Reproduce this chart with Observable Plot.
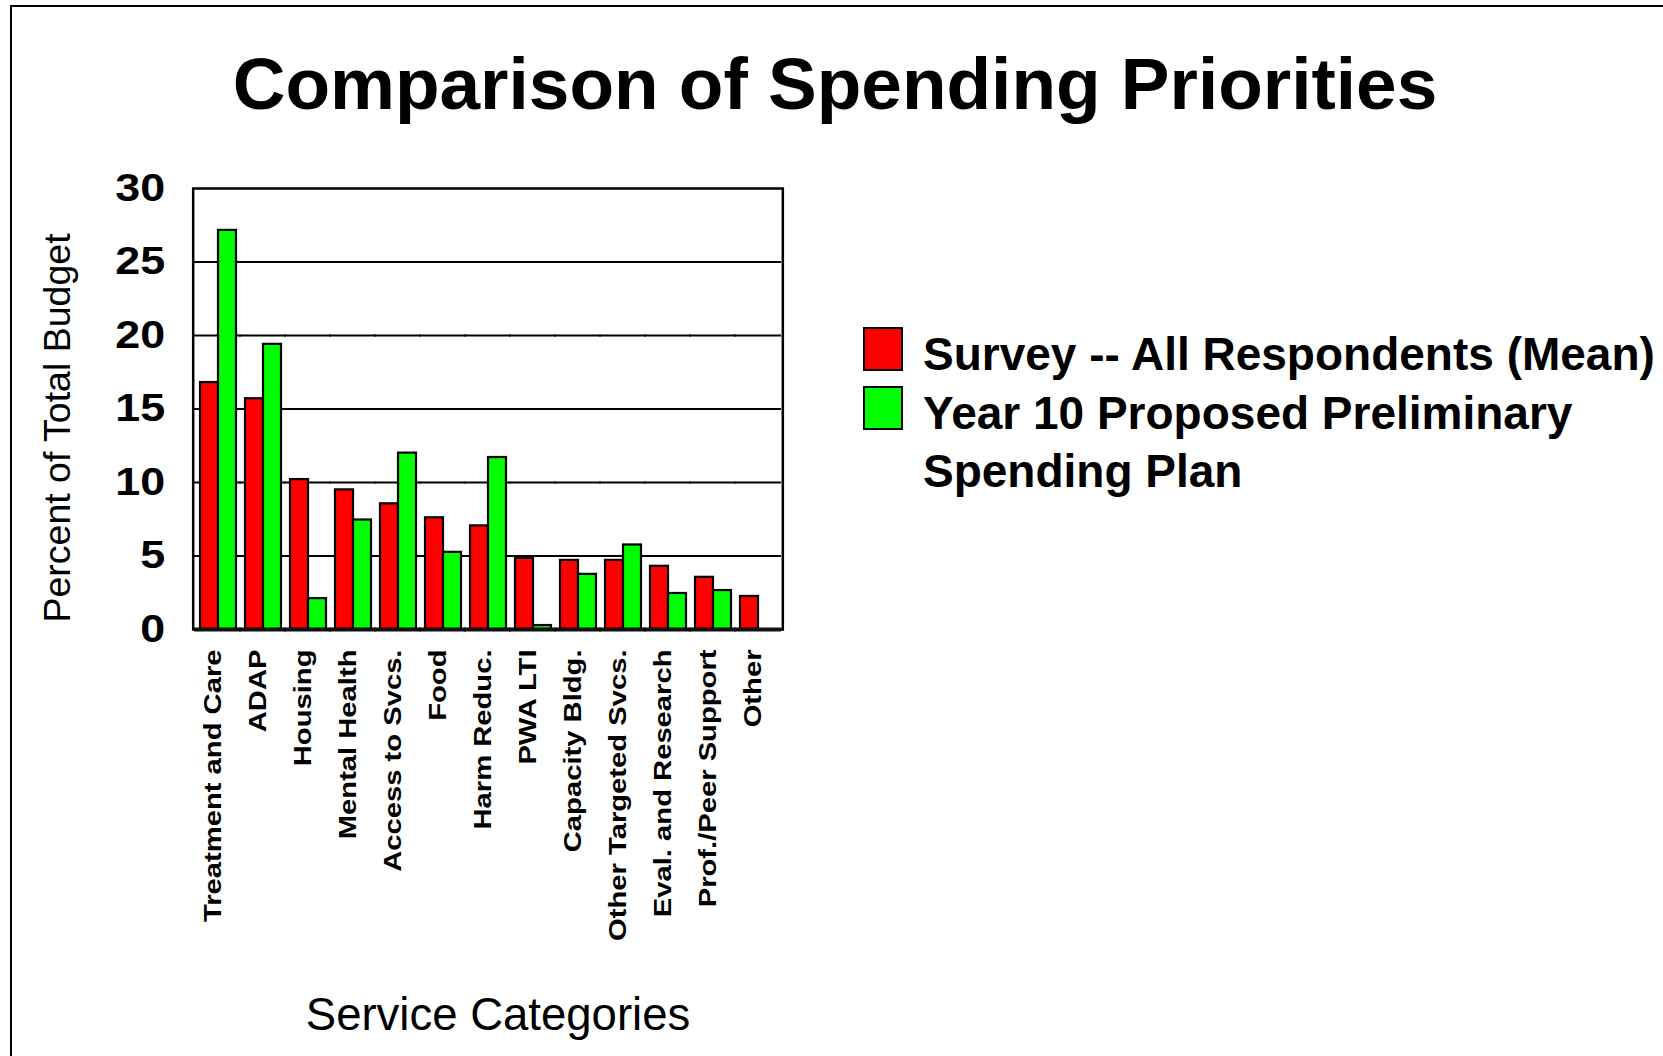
<!DOCTYPE html>
<html>
<head>
<meta charset="utf-8">
<script src="https://cdn.jsdelivr.net/npm/d3@7"></script>
<script src="https://cdn.jsdelivr.net/npm/@observablehq/plot@0.6"></script>
<style>
  html, body { margin: 0; padding: 0; background: #fff; }
  #page { position: relative; width: 1663px; height: 1056px; overflow: hidden; background: #fff;
          font-family: "Liberation Sans", Arial, Helvetica, sans-serif; color: #000; }
  #border { position: absolute; left: 10px; top: 5px; width: 1700px; height: 1100px;
            border-top: 2.5px solid #000; border-left: 2.5px solid #000; }
  #chart { position: absolute; left: 0; top: 0; }
  #title { position: absolute; left: 835px; top: 47px; transform: translateX(-50%); white-space: nowrap;
           font-size: 73px; line-height: 73px; font-weight: bold; }
  #ylabel { position: absolute; left: 57.5px; top: 428px; transform: translate(-50%, -50%) rotate(-90deg);
            white-space: nowrap; font-size: 37.5px; line-height: 37.5px; }
  #xlabel { position: absolute; left: 498px; top: 992px; transform: translateX(-50%); white-space: nowrap;
            font-size: 45.5px; line-height: 45.5px; }
  #legend { position: absolute; left: 863px; top: 325px; }
  .entry { display: flex; align-items: flex-start; }
  .swatch { width: 36px; height: 40px; border: 2.5px solid #000; margin-top: 2px; margin-right: 20px; flex: none; }
  .entry-label { font-size: 46px; line-height: 58.5px; font-weight: bold; width: 760px; }
</style>
</head>
<body>
<div id="page">
  <div id="border"></div>
  <div id="title"></div>
  <div id="chart"></div>
  <div id="ylabel"></div>
  <div id="xlabel"></div>
  <div id="legend"></div>
</div>
<script>
// ---- data ----
const titleText = "Comparison of Spending Priorities";
const yLabel = "Percent of Total Budget";
const xLabel = "Service Categories";
const categories = ["Treatment and Care", "ADAP", "Housing", "Mental Health", "Access to Svcs.", "Food",
  "Harm Reduc.", "PWA LTI", "Capacity Bldg.", "Other Targeted Svcs.", "Eval. and Research",
  "Prof./Peer Support", "Other"];
const seriesNames = ["Survey -- All Respondents (Mean)", "Year 10 Proposed Preliminary Spending Plan"];
const seriesColors = ["#ff0000", "#00ff00"];
const surveyValues = [16.8, 15.7, 10.2, 9.5, 8.55, 7.6, 7.05, 4.85, 4.7, 4.7, 4.3, 3.55, 2.25];
const planValues = [27.15, 19.4, 2.1, 7.45, 12.0, 5.25, 11.7, 0.27, 3.75, 5.75, 2.45, 2.65, 0];
const yTicks = [0, 5, 10, 15, 20, 25, 30];
const gridValues = [5, 10, 15, 20, 25];

const data = categories.flatMap((c, i) => [
  {category: c, series: seriesNames[0], value: surveyValues[i]},
  {category: c, series: seriesNames[1], value: planValues[i]}
]);

document.getElementById("title").textContent = titleText;
document.getElementById("ylabel").textContent = yLabel;
document.getElementById("xlabel").textContent = xLabel;

const legend = document.getElementById("legend");
seriesNames.forEach((name, i) => {
  const row = document.createElement("div");
  row.className = "entry";
  const sw = document.createElement("div");
  sw.className = "swatch";
  sw.style.background = seriesColors[i];
  const lab = document.createElement("div");
  lab.className = "entry-label";
  lab.textContent = name;
  row.appendChild(sw); row.appendChild(lab);
  legend.appendChild(row);
});

// layout
const W = 1663, H = 1056, mL = 192, mR = 880, mT = 188, mB = 427;
const padIn = 0.175, padOut = 0.14;
const step = (W - mL - mR) / (categories.length - padIn + 2 * padOut);
const outer = step * padOut;          // gap between frame edge and first/last facet
const gapFill = -(step * padIn / 2 + 1); // stretch per-facet rules over the gaps

const chart = Plot.plot({
  width: W,
  height: H,
  marginLeft: mL,
  marginRight: mR,
  marginTop: mT,
  marginBottom: mB,
  style: {fontFamily: "'Liberation Sans', Arial, sans-serif", background: "transparent", color: "#000", overflow: "visible"},
  fx: {domain: categories, paddingInner: padIn, paddingOuter: padOut, label: null},
  x: {domain: seriesNames, padding: 0, axis: null},
  y: {domain: [0, 30], label: null},
  color: {domain: seriesNames, range: seriesColors},
  marks: [
    Plot.ruleY(gridValues, {stroke: "#000", strokeWidth: 2, insetLeft: gapFill, insetRight: gapFill}),
    Plot.barY(data, {fx: "category", x: "series", y: "value", fill: "series", stroke: "#000", strokeWidth: 2.2}),
    Plot.frame({facet: "super", stroke: "#000", strokeWidth: 2.5, insetLeft: -outer, insetRight: -outer}),
    Plot.ruleY([0], {stroke: "#111", strokeWidth: 4, insetLeft: gapFill, insetRight: gapFill}),
    Plot.axisY({ticks: yTicks, tickSize: 0, tickPadding: 28 + outer, fontSize: 39, fontWeight: "bold", label: null}),
    Plot.axisFx({anchor: "bottom", tickRotate: -90, tickSize: 0, tickPadding: 20, fontSize: 23, fontWeight: "bold", label: null, dx: -4})
  ]
});
document.getElementById("chart").appendChild(chart);

// the reference's axis lettering is drawn wider than the font's natural shape
function stretch(nodes, sx) {
  nodes.forEach(t => {
    const tr = t.getAttribute("transform") || "";
    t.setAttribute("transform", `${tr} scale(${sx},1)`);
  });
}
stretch(chart.querySelectorAll('[aria-label="fx-axis tick label"] text'), 1.27);
stretch(chart.querySelectorAll('[aria-label="y-axis tick label"] text'), 1.15);
</script>
</body>
</html>
